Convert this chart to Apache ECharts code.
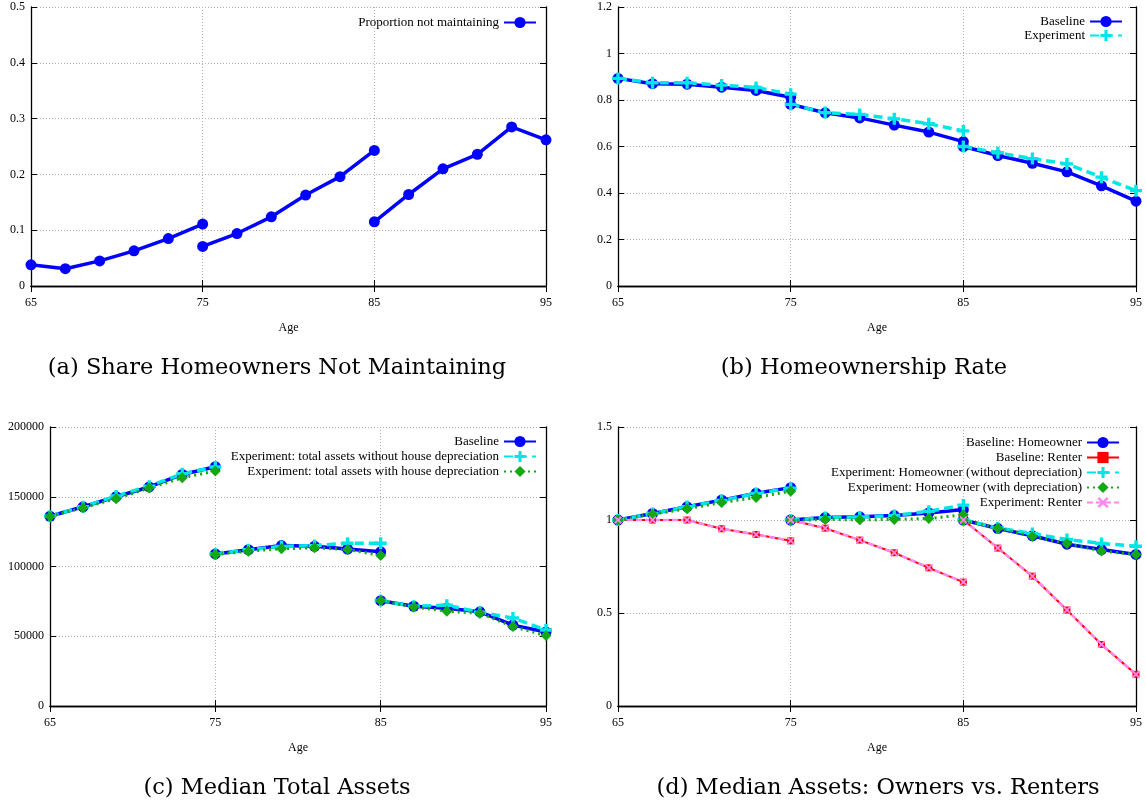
<!DOCTYPE html>
<html><head><meta charset="utf-8">
<script src="https://cdn.jsdelivr.net/npm/echarts@6/dist/echarts.min.js"></script>
<style>html,body{margin:0;padding:0;background:#fff;}#c{width:1146px;height:803px;}</style>
</head><body><div id="c"></div>
<script>
// ---- data ----
const ages = ['65','67','69','71','73','75','77','79','81','83','85','87','89','91','93','95'];
const seg1Ages = ['65','67','69','71','73','75'];
const seg2Ages = ['75','77','79','81','83','85'];
const seg3Ages = ['85','87','89','91','93','95'];
const captions = ['(a) Share Homeowners Not Maintaining','(b) Homeownership Rate','(c) Median Total Assets','(d) Median Assets: Owners vs. Renters'];
// (a)
const notMaint1 = [0.038,0.031,0.045,0.063,0.085,0.111];
const notMaint2 = [0.071,0.094,0.124,0.163,0.196,0.243];
const notMaint3 = [0.115,0.164,0.210,0.236,0.285,0.262];
// (b)
const ownRateBase1 = [0.893,0.870,0.868,0.855,0.841,0.812];
const ownRateBase2 = [0.781,0.745,0.723,0.692,0.662,0.621];
const ownRateBase3 = [0.600,0.561,0.528,0.491,0.431,0.365];
const ownRateExp1 = [0.893,0.874,0.874,0.864,0.854,0.825];
const ownRateExp2 = [0.781,0.746,0.738,0.719,0.698,0.667];
const ownRateExp3 = [0.600,0.573,0.548,0.525,0.468,0.410];
// (c)
const assetsBase1 = [136000,142800,150000,157000,166000,171500];
const assetsBase2 = [109000,112000,115000,114500,112500,110500];
const assetsBase3 = [75500,71500,70000,67500,58000,53000];
const assetsNoDep1 = [136000,142800,150500,157600,166500,171300];
const assetsNoDep2 = [109000,112000,114400,115000,116700,116700];
const assetsNoDep3 = [75600,71500,72200,67200,63100,54500];
const assetsDep1 = [135900,142100,148600,156200,163600,168400];
const assetsDep2 = [108600,111000,112700,113400,112200,107900];
const assetsDep3 = [75600,71000,67900,66500,56900,50500];
// (d)
const ownerBase1 = [1.000,1.035,1.071,1.107,1.144,1.174];
const ownerBase2 = [1.000,1.013,1.017,1.024,1.038,1.056];
const ownerBase3 = [1.000,0.954,0.915,0.870,0.841,0.815];
const renterBase1 = [1.000,1.000,1.000,0.953,0.922,0.888];
const renterBase2 = [1.000,0.956,0.892,0.824,0.743,0.666];
const renterBase3 = [1.000,0.849,0.698,0.516,0.331,0.170];
const ownerNoDep1 = [1.000,1.035,1.072,1.105,1.143,1.171];
const ownerNoDep2 = [1.000,1.013,1.016,1.024,1.047,1.080];
const ownerNoDep3 = [1.000,0.958,0.927,0.895,0.874,0.859];
const ownerDep1 = [1.000,1.031,1.060,1.094,1.121,1.155];
const ownerDep2 = [0.997,1.003,1.001,1.003,1.008,1.028];
const ownerDep3 = [0.997,0.956,0.911,0.874,0.833,0.815];
const renterExp1 = [1.000,1.000,1.000,0.953,0.922,0.888];
const renterExp2 = [1.000,0.956,0.892,0.824,0.743,0.666];
const renterExp3 = [1.000,0.849,0.698,0.516,0.331,0.170];

// ---- styles ----
const FONT = 'Liberation Serif';
const PLUS = 'path://M3.6,0H6.4V3.6H10V6.4H6.4V10H3.6V6.4H0V3.6H3.6Z';
const CROSS = 'path://M0,1.6L1.6,0L5,3.4L8.4,0L10,1.6L6.6,5L10,8.4L8.4,10L5,6.6L1.6,10L0,8.4L3.4,5Z';
const styles = {
  blue:  {color:'#0000ff', symbol:'circle', symbolSize:11, lineStyle:{width:3.5, type:'solid'}},
  cyan:  {color:'#00e6e6', symbol:PLUS, symbolSize:12, lineStyle:{width:3.5, type:[9,5]}},
  green: {color:'#14a814', symbol:'diamond', symbolSize:11, lineStyle:{width:3, type:[2,4]}},
  red:   {color:'#ff0000', symbol:'rect', symbolSize:7, lineStyle:{width:2, type:'solid'}},
  pink:  {color:'#ff88ee', symbol:CROSS, symbolSize:8, lineStyle:{width:2.5, type:[6,3]}}
};
function pairs(a, v){ return v.map((y,i)=>[a[i], y]); }
function mk(name, grid, st, segs){
  const segAges = [seg1Ages, seg2Ages, seg3Ages];
  return segs.map((vals, k)=>({
    type:'line', name:name, xAxisIndex:grid*2, yAxisIndex:grid*2,
    data:pairs(segAges[k], vals), symbol:st.symbol, symbolSize:st.symbolSize,
    showSymbol:true, showAllSymbol:true,
    itemStyle:{color:st.color}, lineStyle:Object.assign({color:st.color}, st.lineStyle),
    emphasis:{disabled:true}
  }));
}

const grids = [
  {left:31, top:7, width:515, height:279},
  {left:618, top:7, width:518, height:279},
  {left:50, top:427, width:496, height:279},
  {left:618, top:427, width:518, height:279}
];
const yRanges = [[0,0.5,0.1],[0,1.2,0.2],[0,200000,50000],[0,1.5,0.5]];

const xAxes = [], yAxes = [];
grids.forEach((g,i)=>{
  xAxes.push({type:'category', gridIndex:i, data:ages, boundaryGap:false, position:'bottom',
    axisLine:{show:true, lineStyle:{color:'#000', width:1.3}},
    axisTick:{show:true, inside:true, length:6, interval:4, lineStyle:{color:'#000', width:1}},
    axisLabel:{interval:4, color:'#000', fontFamily:FONT, fontSize:12, margin:11},
    splitLine:{show:true, interval:4, lineStyle:{color:'#b0b0b0', width:1, type:[1,2]}},
    name:'Age', nameLocation:'middle', nameGap:36, nameTextStyle:{color:'#000', fontFamily:FONT, fontSize:12}
  });
  xAxes.push({type:'category', gridIndex:i, data:ages, boundaryGap:false, position:'top',
    axisLine:{show:true, lineStyle:{color:'#000', width:1.3}},
    axisTick:{show:true, inside:true, length:6, interval:4, lineStyle:{color:'#000', width:1}},
    axisLabel:{show:false}, splitLine:{show:false}
  });
  const r = yRanges[i];
  yAxes.push({type:'value', gridIndex:i, min:r[0], max:r[1], interval:r[2], position:'left',
    axisLine:{show:true, lineStyle:{color:'#000', width:1.3}},
    axisTick:{show:true, inside:true, length:6, lineStyle:{color:'#000', width:1}},
    axisLabel:{color:'#000', fontFamily:FONT, fontSize:12, margin:6, formatter:(v)=>String(v)},
    splitLine:{show:true, lineStyle:{color:'#b0b0b0', width:1, type:[1,2]}}
  });
  yAxes.push({type:'value', gridIndex:i, min:r[0], max:r[1], interval:r[2], position:'right',
    axisLine:{show:true, lineStyle:{color:'#000', width:1.3}},
    axisTick:{show:true, inside:true, length:6, lineStyle:{color:'#000', width:1}},
    axisLabel:{show:false}, splitLine:{show:false}
  });
});

const series = [].concat(
  mk('Proportion not maintaining', 0, styles.blue, [notMaint1, notMaint2, notMaint3]),
  mk('Baseline', 1, styles.blue, [ownRateBase1, ownRateBase2, ownRateBase3]),
  mk('Experiment', 1, styles.cyan, [ownRateExp1, ownRateExp2, ownRateExp3]),
  mk('Baseline', 2, styles.blue, [assetsBase1, assetsBase2, assetsBase3]),
  mk('Experiment: total assets without house depreciation', 2, styles.cyan, [assetsNoDep1, assetsNoDep2, assetsNoDep3]),
  mk('Experiment: total assets with house depreciation', 2, styles.green, [assetsDep1, assetsDep2, assetsDep3]),
  mk('Baseline: Homeowner', 3, styles.blue, [ownerBase1, ownerBase2, ownerBase3]),
  mk('Baseline: Renter', 3, styles.red, [renterBase1, renterBase2, renterBase3]),
  mk('Experiment: Homeowner (without depreciation)', 3, styles.cyan, [ownerNoDep1, ownerNoDep2, ownerNoDep3]),
  mk('Experiment: Homeowner (with depreciation)', 3, styles.green, [ownerDep1, ownerDep2, ownerDep3]),
  mk('Experiment: Renter', 3, styles.pink, [renterExp1, renterExp2, renterExp3])
);

function legend(names, top, right, gap){
  return {show:true, orient:'vertical', align:'right', top:top, right:right, padding:0,
    itemWidth:32, itemHeight:14, itemGap:gap, selectedMode:false,
    textStyle:{color:'#000', fontFamily:FONT, fontSize:13}, data:names};
}

const capPos = [[277,368],[864,368],[277,788],[878,788]];
const graphics = captions.map((t,i)=>({type:'text', x:capPos[i][0], y:capPos[i][1], silent:true,
  style:{text:t, textAlign:'center', textVerticalAlign:'middle', fill:'#000', font:'22.5px "DejaVu Serif"'}}));

const chart = echarts.init(document.getElementById('c'), null, {renderer:'canvas'});
chart.setOption({
  animation:false, backgroundColor:'#fff',
  grid:grids, xAxis:xAxes, yAxis:yAxes, series:series,
  legend:[
    legend(['Proportion not maintaining'], 16, 609, 2),
    legend(['Baseline','Experiment'], 15, 23, 1),
    legend(['Baseline','Experiment: total assets without house depreciation','Experiment: total assets with house depreciation'], 435, 609, 2),
    legend(['Baseline: Homeowner','Baseline: Renter','Experiment: Homeowner (without depreciation)','Experiment: Homeowner (with depreciation)','Experiment: Renter'], 436, 26, 2)
  ],
  graphic:graphics
});
</script></body></html>
